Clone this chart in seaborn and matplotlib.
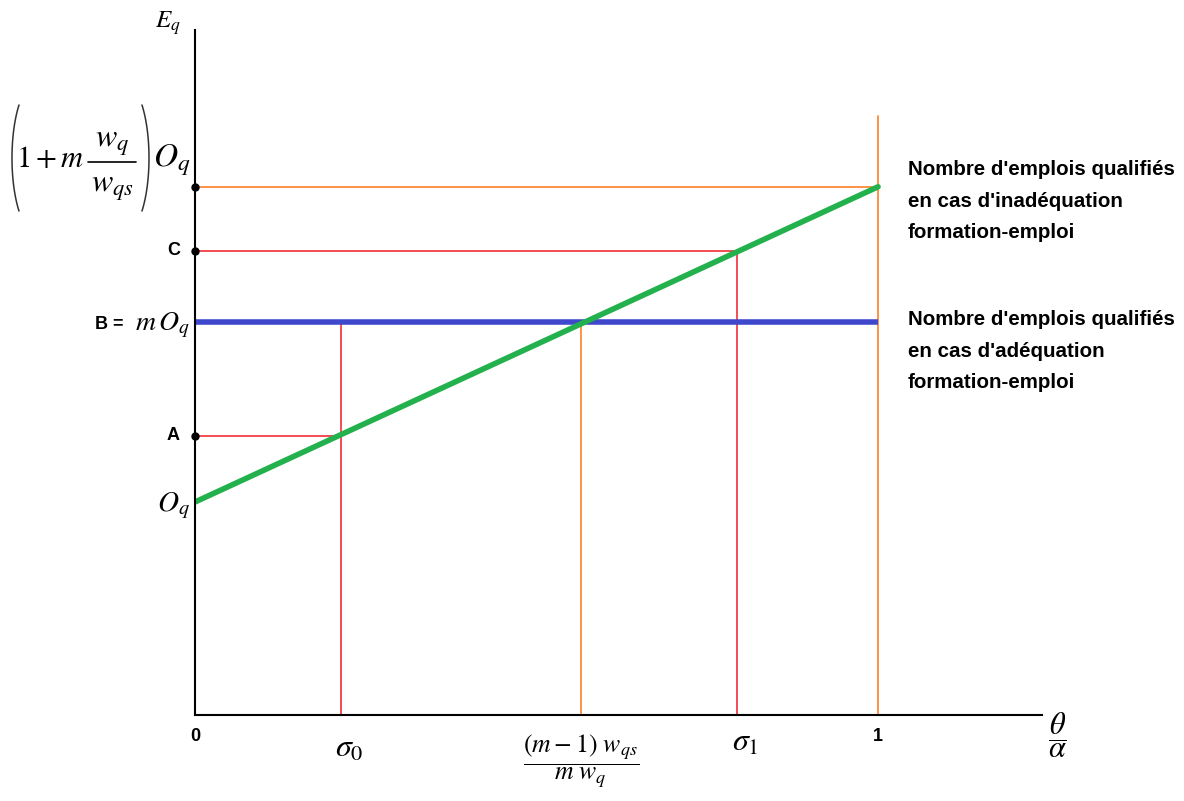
import numpy as np
import pandas as pd
import matplotlib
matplotlib.use("Agg")
import matplotlib.pyplot as plt
import seaborn as sns

# positions (x in units of theta/alpha, y in units of O_q)
x_sigma0 = 0.214
x_star = 0.565
x_sigma1 = 0.794
x_one = 1.0

y_oq = 1.0
y_a = 1.31
y_b = 1.845
y_c = 2.18
y_top = 2.48
y_orange_top = 2.81

# the rising green line (qualified jobs under mismatch)
green_x = [0.0, x_one]
green_y = [y_oq, y_top]

right_block_1 = ["Nombre d'emplois qualifiés", "en cas d'inadéquation", "formation-emploi"]
right_block_2 = ["Nombre d'emplois qualifiés", "en cas d'adéquation", "formation-emploi"]

GREEN = "#22b14c"
BLUE = "#3f48cc"
RED = "#ed1c24"
ORANGE = "#ff7f27"

sns.set_theme(style="white")
plt.rcParams["mathtext.fontset"] = "stix"
plt.rcParams["font.family"] = ["DejaVu Sans"]
plt.rcParams["text.color"] = "black"

fig = plt.figure(figsize=(11.84, 8.01), dpi=100)
ax = fig.add_axes([195 / 1184, 86 / 801, 847 / 1184, 685 / 801])
ax.set_xlim(0, 1.24)
ax.set_ylim(0, 3.216)

# pixel -> data helpers for placing the labels outside the axes
PX = 683.0
PY = 213.0
def dx(px):
    return (px - 195) / PX
def dy(py):
    return (715 - py) / PY

# thin guide lines
ax.plot([0, x_one], [y_top, y_top], color=ORANGE, lw=1.2)
ax.plot([x_one, x_one], [0, y_orange_top], color=ORANGE, lw=1.2)
ax.plot([x_star, x_star], [0, y_b], color=ORANGE, lw=1.2)
ax.plot([0, x_sigma1], [y_c, y_c], color=RED, lw=1.1)
ax.plot([x_sigma1, x_sigma1], [0, y_c], color=RED, lw=1.1)
ax.plot([0, x_sigma0], [y_a, y_a], color=RED, lw=1.1)
ax.plot([x_sigma0, x_sigma0], [0, y_b], color=RED, lw=1.1)

# thick lines
ax.plot([0, x_one], [y_b, y_b], color=BLUE, lw=4, solid_capstyle="butt")
df = pd.DataFrame({"x": green_x, "y": green_y})
sns.lineplot(data=df, x="x", y="y", ax=ax, color=GREEN, lw=4)

ax.plot([0, 0, 0], [y_top, y_c, y_a], "o", color="black", ms=5, clip_on=False, zorder=5)

# axes
for s in ["top", "right"]:
    ax.spines[s].set_visible(False)
for s in ["left", "bottom"]:
    ax.spines[s].set_color("black")
    ax.spines[s].set_linewidth(1.5)
ax.set_xticks([])
ax.set_yticks([])
ax.set_xlabel("")
ax.set_ylabel("")

narrow = ["Liberation Sans Narrow", "Liberation Sans", "DejaVu Sans"]
kw = dict(clip_on=False, color="black")
bold = dict(fontweight="bold", family=narrow, fontsize=13)

ax.text(-0.04, 3.25, r"$E_q$", fontsize=18, ha="center", va="center", **kw)

# (1 + m w_q / w_qs) O_q, built from pieces so the brackets can be tall
ax.text(dx(84), dy(158), r"$1+m$", fontsize=22, ha="right", va="center", **kw)
ax.plot([dx(88), dx(136)], [dy(162), dy(162)], color="black", lw=1.2, clip_on=False)
ax.text(dx(112), dy(142), r"$w_q$", fontsize=23, ha="center", va="center", **kw)
ax.text(dx(112), dy(187), r"$w_{qs}$", fontsize=23, ha="center", va="center", **kw)
# tall round brackets
t = np.linspace(np.radians(45), np.radians(135), 60)
ax.plot(dx(36 - 24 * np.sin(t)), dy(158 - 75 * np.cos(t)), color="#333333", lw=1.1, clip_on=False)
ax.plot(dx(125 + 24 * np.sin(t)), dy(158 - 75 * np.cos(t)), color="#333333", lw=1.1, clip_on=False)
ax.text(dx(190), dy(160), r"$O_q$", fontsize=24, ha="right", va="center", **kw)

ax.text(-0.022, y_c, "C", ha="right", va="center", **bold, **kw)
ax.text(-0.008, 1.83, r"$m\,O_q$", fontsize=20, ha="right", va="center", **kw)
ax.text(dx(124), 1.835, "B =", ha="right", va="center", **bold, **kw)
ax.text(-0.022, y_a, "A", ha="right", va="center", **bold, **kw)
ax.text(-0.008, 0.985, r"$O_q$", fontsize=21, ha="right", va="center", **kw)

ax.text(0.0, -0.10, "0", ha="center", va="center", **bold, **kw)
ax.text(x_sigma0 + 0.012, -0.155, r"$\sigma_0$", fontsize=23, ha="center", va="center", **kw)
ax.text(x_star, -0.22, r"$\dfrac{(m-1)\ w_{qs}}{m\ w_q}$", fontsize=18.5, ha="center", va="center", **kw)
ax.text(x_sigma1 + 0.012, -0.13, r"$\sigma_1$", fontsize=23, ha="center", va="center", **kw)
ax.text(x_one, -0.10, "1", ha="center", va="center", **bold, **kw)
ax.text(1.262, -0.094, r"$\dfrac{\theta}{\alpha}$", fontsize=22, ha="center", va="center", **kw)

for i, line in enumerate(right_block_1):
    ax.text(1.044, 2.56 - i * 0.148, line, fontsize=14.8, fontweight="bold",
            family=narrow, ha="left", va="center", **kw)
for i, line in enumerate(right_block_2):
    ax.text(1.044, 1.855 - i * 0.148, line, fontsize=14.8, fontweight="bold",
            family=narrow, ha="left", va="center", **kw)

fig.savefig("out.png", dpi=100)
